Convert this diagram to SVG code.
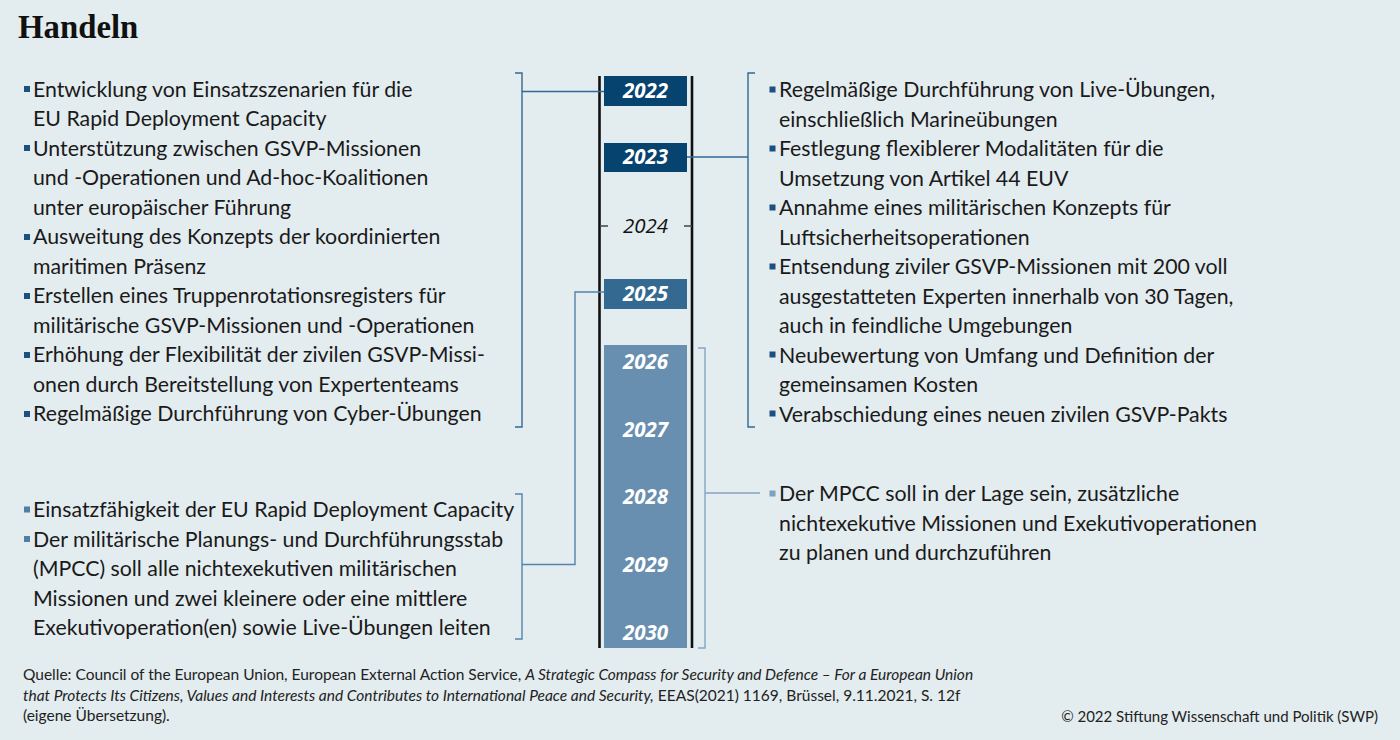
<svg xmlns="http://www.w3.org/2000/svg" width="1400" height="740" viewBox="0 0 1400 740">
<style>
.bg{fill:#e3ecef}
.title{font-family:"Liberation Serif",serif;font-weight:bold;font-size:32.8px;fill:#111}
.t{font-family:Lato,"Liberation Sans",sans-serif;font-size:21.3px;fill:#1a1a1a}
.f{font-family:Lato,"Liberation Sans",sans-serif;font-size:15.5px;fill:#222}
.fc{font-family:Lato,"Liberation Sans",sans-serif;font-size:15px;fill:#222}
.yr{font-family:"Open Sans","Liberation Sans",sans-serif;font-weight:bold;font-style:italic;font-size:20.5px;fill:#fff;text-anchor:middle}
.yr24{font-family:"Open Sans","Liberation Sans",sans-serif;font-style:italic;font-size:20.5px;fill:#111;text-anchor:middle}
.b1{fill:#1d4f80}
.b2{fill:#4f7ea7}
.b3{fill:#7fa0be}
.axis{stroke:#111;stroke-width:2.6;fill:none}
.c1{stroke:#2f6a96;stroke-width:1.4;fill:none}
.c2{stroke:#5584ab;stroke-width:1.4;fill:none}
.c3{stroke:#84a6c2;stroke-width:1.4;fill:none}
</style>
<rect class="bg" x="0" y="0" width="1400" height="740"/>
<text class="title" x="18" y="38">Handeln</text>

<g id="timeline">
<rect x="604" y="76" width="83" height="30" fill="#06436f"/>
<rect x="604" y="143" width="83" height="29" fill="#06436f"/>
<rect x="604" y="279" width="83" height="30" fill="#346a91"/>
<rect x="604" y="345" width="83" height="303" fill="#688fb0"/>
<line class="axis" x1="599.5" y1="76" x2="599.5" y2="648"/>
<line class="axis" x1="692" y1="76" x2="692" y2="648"/>
<path d="M600,226H608M684,226H692" stroke="#444" stroke-width="1.5"/>
<text class="yr" x="645.5" y="98">2022</text>
<text class="yr" x="645.5" y="164">2023</text>
<text class="yr24" x="645.5" y="233">2024</text>
<text class="yr" x="645.5" y="301">2025</text>
<text class="yr" x="645.5" y="369">2026</text>
<text class="yr" x="645.5" y="437">2027</text>
<text class="yr" x="645.5" y="504">2028</text>
<text class="yr" x="645.5" y="572">2029</text>
<text class="yr" x="645.5" y="640">2030</text>
</g>

<g id="connectors">
<path class="c1" d="M515,73H522V427H515"/>
<path class="c1" d="M522,91.5H604"/>
<path class="c1" d="M755,73H748V427H755"/>
<path class="c1" d="M687,157H748"/>
<path class="c2" d="M515,494H522V639H515"/>
<path class="c2" d="M522,564.5H575V292H604"/>
<path class="c3" d="M698,348H705V648H698"/>
<path class="c3" d="M705,493H760"/>
</g>

<g id="left-top">
<rect class="b1" x="24" y="86" width="6" height="6"/>
<rect class="b1" x="24" y="145" width="6" height="6"/>
<rect class="b1" x="24" y="234" width="6" height="6"/>
<rect class="b1" x="24" y="293" width="6" height="6"/>
<rect class="b1" x="24" y="352" width="6" height="6"/>
<rect class="b1" x="24" y="411" width="6" height="6"/>
<text class="t" x="33" y="96.5">Entwicklung von Einsatzszenarien für die</text>
<text class="t" x="33" y="126">EU Rapid Deployment Capacity</text>
<text class="t" x="33" y="155.5">Unterstützung zwischen GSVP-Missionen</text>
<text class="t" x="33" y="185">und -Operationen und Ad-hoc-Koalitionen</text>
<text class="t" x="33" y="214.5">unter europäischer Führung</text>
<text class="t" x="33" y="244">Ausweitung des Konzepts der koordinierten</text>
<text class="t" x="33" y="273.5">maritimen Präsenz</text>
<text class="t" x="33" y="303">Erstellen eines Truppenrotationsregisters für</text>
<text class="t" x="33" y="332.5">militärische GSVP-Missionen und -Operationen</text>
<text class="t" x="33" y="362">Erhöhung der Flexibilität der zivilen GSVP-Missi-</text>
<text class="t" x="33" y="391.5">onen durch Bereitstellung von Expertenteams</text>
<text class="t" x="33" y="421">Regelmäßige Durchführung von Cyber-Übungen</text>
</g>

<g id="right-top">
<rect class="b1" x="769.5" y="86.5" width="6" height="6"/>
<rect class="b1" x="769.5" y="145.5" width="6" height="6"/>
<rect class="b1" x="769.5" y="204.5" width="6" height="6"/>
<rect class="b1" x="769.5" y="263.5" width="6" height="6"/>
<rect class="b1" x="769.5" y="351.5" width="6" height="6"/>
<rect class="b1" x="769.5" y="410.5" width="6" height="6"/>
<text class="t" x="779" y="97">Regelmäßige Durchführung von Live-Übungen,</text>
<text class="t" x="779" y="126.5">einschließlich Marineübungen</text>
<text class="t" x="779" y="156">Festlegung flexiblerer Modalitäten für die</text>
<text class="t" x="779" y="185.5">Umsetzung von Artikel 44 EUV</text>
<text class="t" x="779" y="215">Annahme eines militärischen Konzepts für</text>
<text class="t" x="779" y="244.5">Luftsicherheitsoperationen</text>
<text class="t" x="779" y="274">Entsendung ziviler GSVP-Missionen mit 200 voll</text>
<text class="t" x="779" y="303.5">ausgestatteten Experten innerhalb von 30 Tagen,</text>
<text class="t" x="779" y="333">auch in feindliche Umgebungen</text>
<text class="t" x="779" y="362.5">Neubewertung von Umfang und Definition der</text>
<text class="t" x="779" y="392">gemeinsamen Kosten</text>
<text class="t" x="779" y="421.5">Verabschiedung eines neuen zivilen GSVP-Pakts</text>
</g>

<g id="left-bottom">
<rect class="b2" x="24" y="506.5" width="6" height="6"/>
<rect class="b2" x="24" y="536" width="6" height="6"/>
<text class="t" x="33" y="517">Einsatzfähigkeit der EU Rapid Deployment Capacity</text>
<text class="t" x="33" y="546.5">Der militärische Planungs- und Durchführungsstab</text>
<text class="t" x="33" y="576">(MPCC) soll alle nichtexekutiven militärischen</text>
<text class="t" x="33" y="605.5">Missionen und zwei kleinere oder eine mittlere</text>
<text class="t" x="33" y="635">Exekutivoperation(en) sowie Live-Übungen leiten</text>
</g>

<g id="right-bottom">
<rect class="b3" x="769.5" y="490.5" width="6" height="6"/>
<text class="t" x="779" y="501">Der MPCC soll in der Lage sein, zusätzliche</text>
<text class="t" x="779" y="530.5">nichtexekutive Missionen und Exekutivoperationen</text>
<text class="t" x="779" y="560">zu planen und durchzuführen</text>
</g>

<g id="footer">
<text class="f" x="23" y="680">Quelle: Council of the European Union, European External Action Service, <tspan font-style="italic">A Strategic Compass for Security and Defence – For a European Union</tspan></text>
<text class="f" x="23" y="700.5"><tspan font-style="italic">that Protects Its Citizens, Values and Interests and Contributes to International Peace and Security,</tspan> EEAS(2021) 1169, Brüssel, 9.11.2021, S. 12f</text>
<text class="f" x="23" y="721">(eigene Übersetzung).</text>
<text class="fc" x="1378" y="722" text-anchor="end">© 2022 Stiftung Wissenschaft und Politik (SWP)</text>
</g>
</svg>
